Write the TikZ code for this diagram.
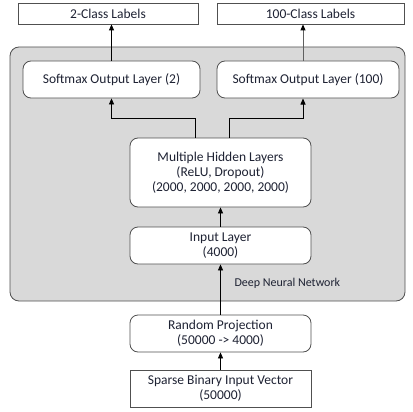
\documentclass[tikz,border=0pt]{standalone}
\usepackage{fontspec}
\setmainfont{Carlito}
\usetikzlibrary{arrows.meta,calc}
\definecolor{txt}{HTML}{1E2233}
\definecolor{bord}{HTML}{505050}
\definecolor{panel}{HTML}{D9D9D9}
\definecolor{grayline}{HTML}{606060}
\tikzset{
  box/.style={draw=bord, line width=0.8pt, fill=white, text=txt, align=center,
    inner sep=0pt, font=\fontsize{13.5}{15}\selectfont},
  rbox/.style={box, rounded corners=8pt},
  arr/.style={-{Triangle[width=5pt,length=6pt,fill=black,color=black]}, line width=0.8pt, black},
  lin/.style={line width=0.8pt, black}
}
\begin{document}
\begin{tikzpicture}[x=1pt,y=-1pt]
\useasboundingbox (0,0) rectangle (412,412);
\node[draw=bord, line width=0.8pt, fill=panel, rounded corners=9pt,
  minimum width=395pt, minimum height=254pt, inner sep=0pt] (dnn) at (207.5,174) {};
\node[text=txt, font=\fontsize{12}{14}\selectfont, anchor=west] (dnnlab) at (231,283) {Deep Neural Network};
\node[box, minimum width=180pt, minimum height=21pt] (lab2) at (108,13.5) {2-Class Labels};
\node[box, minimum width=187pt, minimum height=21pt] (lab100) at (310.5,13.5) {100-Class Labels};
\node[rbox, minimum width=177pt, minimum height=37pt] (sm2) at (111.5,79.5) {Softmax Output Layer (2)};
\node[rbox, minimum width=182pt, minimum height=37pt] (sm100) at (308,79.5) {Softmax Output Layer (100)};
\node[rbox, minimum width=181pt, minimum height=69pt] (hid) at (220.5,172.5) {Multiple Hidden Layers\\(ReLU, Dropout)\\(2000, 2000, 2000, 2000)};
\node[rbox, minimum width=181pt, minimum height=37pt] (inp) at (220.5,245.5) {Input Layer\\(4000)};
\node[rbox, minimum width=181pt, minimum height=37pt] (rp) at (220.5,333.5) {Random Projection\\(50000 -> 4000)};
\node[box, minimum width=181pt, minimum height=37pt] (sp) at (220.5,388.5) {Sparse Binary Input Vector\\(50000)};
\coordinate (j1) at (195,118);
\coordinate (j2) at (229,118);
\coordinate (r1) at (303,98.5);
\draw[arr] (sm2.north) -- (lab2.south -| sm2.north);
\draw[arr, draw=grayline] (r1 |- sm100.north) -- (lab100.south -| r1);
\draw[arr] (hid.north -| j1) -- (j1) -| (sm2.south);
\draw[arr] (hid.north -| j2) -- (j2) -| (r1);
\draw[arr] (inp.north) -- (hid.south);
\draw[arr] (rp.north) -- (inp.south);
\draw[arr] (sp.north) -- (rp.south);
\end{tikzpicture}
\end{document}
